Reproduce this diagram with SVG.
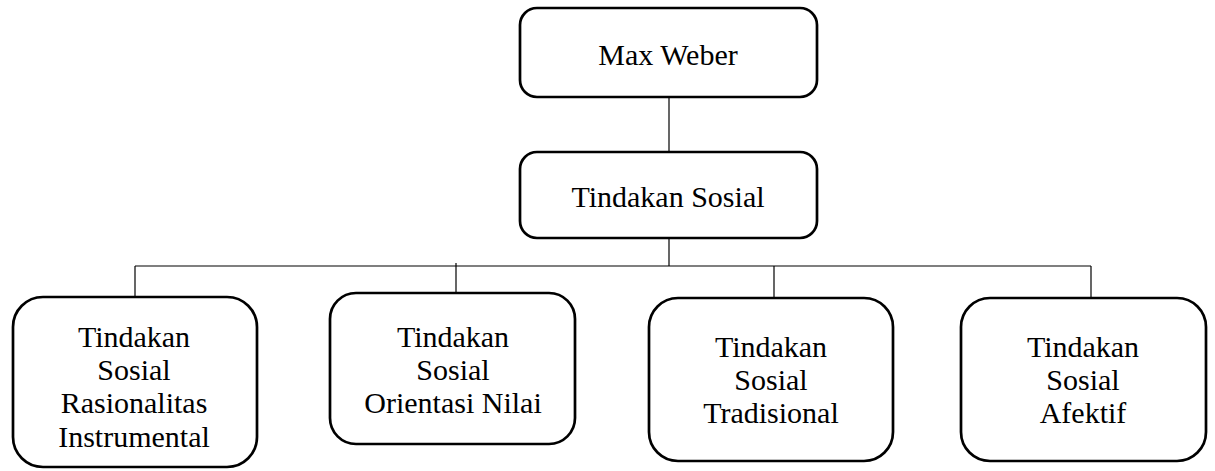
<svg xmlns="http://www.w3.org/2000/svg" width="1215" height="471" viewBox="0 0 1215 471">
<style>
.box{fill:#fff;stroke:#000;stroke-width:2.7}
.t{font-family:"Liberation Serif","Times New Roman",serif;font-size:30px;fill:#000;text-anchor:middle}
.c{stroke:#000;stroke-width:1.2;fill:none}
</style>
<rect width="1215" height="471" fill="#fff"/>
<g id="connectors">
<line class="c" x1="669" y1="97" x2="669" y2="152"/>
<line class="c" x1="669" y1="238" x2="669" y2="266"/>
<line class="c" x1="135" y1="266" x2="1091" y2="266"/>
<line class="c" x1="135" y1="266" x2="135" y2="297"/>
<line class="c" x1="456" y1="263" x2="456" y2="293"/>
<line class="c" x1="774" y1="266" x2="774" y2="298"/>
<line class="c" x1="1091" y1="266" x2="1091" y2="298"/>
</g>
<g id="max-weber">
<rect class="box" x="520" y="8" width="297" height="89" rx="17"/>
<text class="t" x="668" y="65">Max Weber</text>
</g>
<g id="tindakan-sosial">
<rect class="box" x="520" y="152" width="297" height="86" rx="17"/>
<text class="t" x="668" y="207">Tindakan Sosial</text>
</g>
<g id="rasionalitas">
<rect class="box" x="13" y="297" width="244" height="170" rx="30"/>
<text class="t" x="134" y="347">Tindakan</text>
<text class="t" x="134" y="380">Sosial</text>
<text class="t" x="134" y="413">Rasionalitas</text>
<text class="t" x="134" y="447">Instrumental</text>
</g>
<g id="orientasi-nilai">
<rect class="box" x="330" y="293" width="245" height="151" rx="26"/>
<text class="t" x="453" y="347">Tindakan</text>
<text class="t" x="453" y="380">Sosial</text>
<text class="t" x="453" y="413">Orientasi Nilai</text>
</g>
<g id="tradisional">
<rect class="box" x="649" y="298" width="244" height="163" rx="29"/>
<text class="t" x="771" y="357">Tindakan</text>
<text class="t" x="771" y="390">Sosial</text>
<text class="t" x="771" y="423">Tradisional</text>
</g>
<g id="afektif">
<rect class="box" x="961" y="298" width="245" height="163" rx="29"/>
<text class="t" x="1083" y="357">Tindakan</text>
<text class="t" x="1083" y="390">Sosial</text>
<text class="t" x="1083" y="423">Afektif</text>
</g>
</svg>
